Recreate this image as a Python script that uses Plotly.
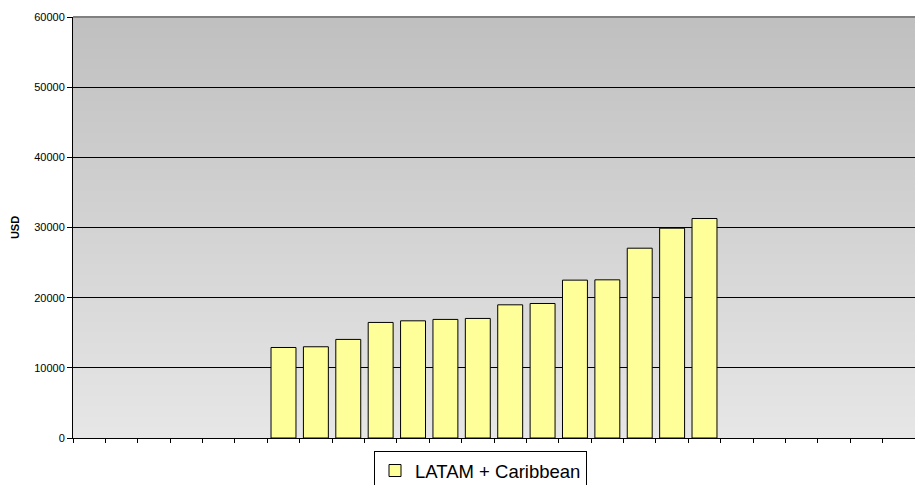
import plotly.graph_objects as go

# 26 unlabeled category slots along the x axis; only the middle ones carry values
CATEGORIES = [f"c{i}" for i in range(26)]
LATAM_VALUES = [None] * 6 + [
    12900, 13000, 14050, 16470, 16700, 16900, 17040,
    18980, 19170, 22500, 22540, 27050, 29900, 31280,
] + [None] * 6
SERIES_NAME = "LATAM + Caribbean"
Y_TICKS = [0, 10000, 20000, 30000, 40000, 50000, 60000]

W, H = 915, 485
M_L, M_R, M_T, M_B = 73, 0, 17, 47

fig = go.Figure()

fig.add_trace(go.Bar(
    x=CATEGORIES, y=LATAM_VALUES,
    name=SERIES_NAME,
    marker=dict(color="#ffff99", line=dict(color="black", width=1)),
))

# vertical grey gradient behind the plot area
shapes = []
n_bands = 80
top = (0xc0, 0xc0, 0xc0)
bot = (0xe6, 0xe6, 0xe6)
for i in range(n_bands):
    t = i / (n_bands - 1)
    c = tuple(round(bot[k] + (top[k] - bot[k]) * t) for k in range(3))
    shapes.append(dict(
        type="rect", xref="paper", yref="paper",
        x0=0, x1=1, y0=i / n_bands, y1=min(1, (i + 1.6) / n_bands),
        fillcolor="rgb(%d,%d,%d)" % c, line=dict(width=0), layer="below",
    ))
shapes.append(dict(
    type="line", xref="paper", yref="paper", x0=0, x1=1, y0=1, y1=1,
    line=dict(color="#808080", width=2),
))

plot_h = H - M_T - M_B
fig.update_layout(
    width=W, height=H,
    margin=dict(l=M_L, r=M_R, t=M_T, b=M_B, autoexpand=False),
    paper_bgcolor="white",
    plot_bgcolor="rgba(0,0,0,0)",
    font=dict(family="Liberation Sans, Arial, sans-serif", color="black", size=11),
    bargap=0.23,
    shapes=shapes,
    showlegend=True,
    legend=dict(
        x=(374 - M_L) / (W - M_L - M_R), xanchor="left",
        y=-(451 - (M_T + plot_h)) / plot_h, yanchor="top",
        orientation="h",
        bordercolor="black", borderwidth=1, bgcolor="white",
        font=dict(size=18.5),
        itemwidth=30,
    ),
    xaxis=dict(
        type="category", categoryorder="array", categoryarray=CATEGORIES,
        range=[-0.5, len(CATEGORIES) - 0.5],
        showticklabels=False, tickson="boundaries",
        ticks="outside", ticklen=4, tickcolor="black",
        showgrid=False, showline=True, linecolor="black", linewidth=1,
        zeroline=False, automargin=False,
    ),
    yaxis=dict(
        range=[0, 60000], tickvals=Y_TICKS, tickformat="d",
        ticks="outside", ticklen=5, tickcolor="black",
        tickfont=dict(size=11, color="black"),
        showgrid=True, gridcolor="black", gridwidth=1,
        showline=True, linecolor="black", linewidth=1,
        zeroline=False, automargin=False,
        title=dict(text="<b>USD</b>", font=dict(size=11), standoff=12),
    ),
)

fig.write_html(
    "out.html",
    config={"displayModeBar": False},
    post_script="document.body.style.margin='0';",
)
